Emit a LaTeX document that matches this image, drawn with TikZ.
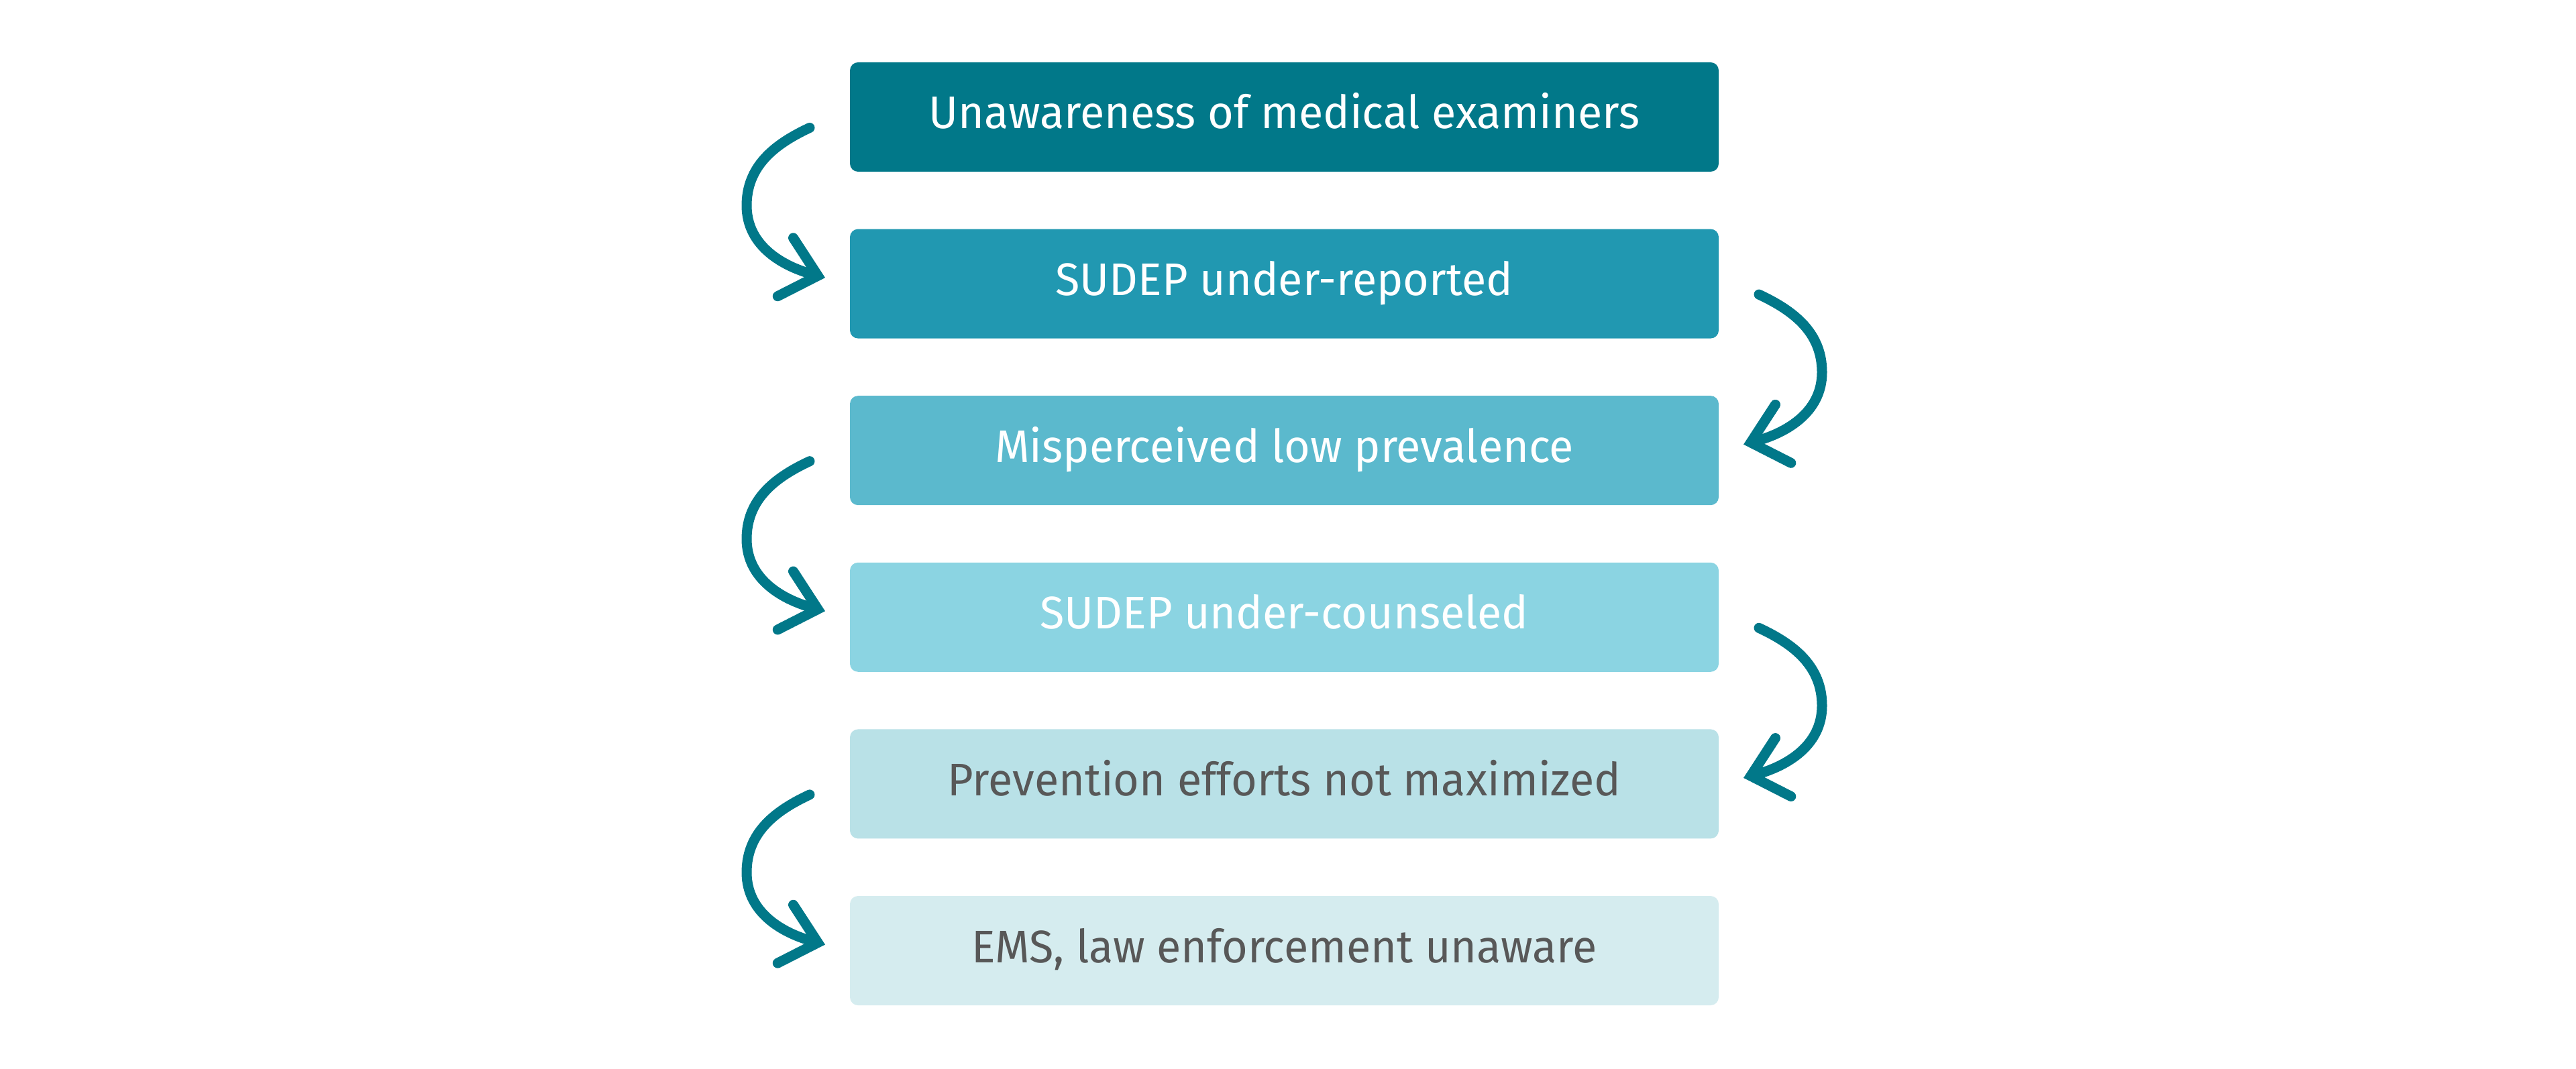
\documentclass[tikz,border=0pt]{standalone}
\usepackage{fontspec}
\setmainfont{Fira Sans}[FakeStretch=0.975]
\usetikzlibrary{positioning,arrows.meta}
\definecolor{shadeA}{RGB}{1,120,137}
\definecolor{shadeB}{RGB}{33,152,177}
\definecolor{shadeC}{RGB}{91,185,205}
\definecolor{shadeD}{RGB}{139,212,226}
\definecolor{shadeE}{RGB}{185,225,231}
\definecolor{shadeF}{RGB}{213,236,239}
\definecolor{txtgray}{RGB}{88,88,88}
\begin{document}
\begin{tikzpicture}[
	every node/.style = {rounded corners=1.2mm, minimum width=12.95cm, minimum height=1.63cm,
		outer sep=0pt, text height=4.7mm, text depth=1.2mm, font=\fontsize{19.4}{23}\selectfont},
	dark/.style = {fill=#1, text=white},
	pale/.style = {fill=#1, text=txtgray},
	link/.style = {draw=shadeA, line width=1.5mm, line cap=round,
		-{Straight Barb[length=5mm, width=9mm, line cap=round, line join=miter]}},
	node distance = 0.856cm
	]
	\useasboundingbox (0,0) rectangle (38.4,15.93);
	
	\node[dark=shadeA] (s1) at (19.145,14.185) {Unawareness of medical examiners};
	\node[dark=shadeB, below=of s1] (s2) {SUDEP under-reported};
	\node[dark=shadeC, below=of s2] (s3) {Misperceived low prevalence};
	\node[dark=shadeD, below=of s3] (s4) {SUDEP under-counseled};
	\node[pale=shadeE, below=of s4] (s5) {Prevention efforts not maximized};
	\node[pale=shadeF, below=of s5] (s6) {EMS, law enforcement unaware};
	
	% left hooks
	\foreach \a/\b in {s1/s2, s3/s4, s5/s6}
		\draw[link] ([shift={(-0.6,-0.16)}]\a.west) to[out=205, in=90]
			([shift={(-1.54,-1.32)}]\a.west) to[out=-90, in=165]
			([shift={(-0.37,0.09)}]\b.west);
	% right hooks
	\foreach \a/\b in {s2/s3, s4/s5}
		\draw[link] ([shift={(0.6,-0.16)}]\a.east) to[out=-25, in=90]
			([shift={(1.54,-1.32)}]\a.east) to[out=-90, in=15]
			([shift={(0.37,0.09)}]\b.east);
\end{tikzpicture}
\end{document}
